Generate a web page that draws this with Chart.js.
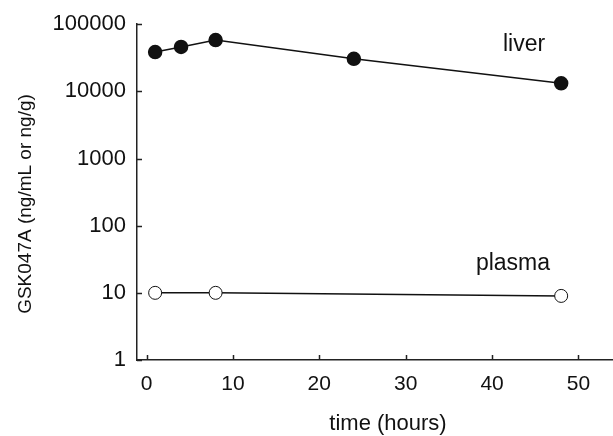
<!DOCTYPE html>
<html>
<head>
<meta charset="utf-8">
<script src="https://cdn.jsdelivr.net/npm/chart.js@4/dist/chart.umd.min.js"></script>
<style>
  html, body { margin: 0; padding: 0; background: #fff; }
  #wrap { width: 613px; height: 436px; }
</style>
</head>
<body>
<div id="wrap"><canvas id="pkChart"></canvas></div>
<script>
const liverTime = [1, 4, 8, 24, 48];
const liverConc = [38500, 45800, 58000, 30500, 13200];
const plasmaTime = [1, 8, 48];
const plasmaConc = [10, 10, 9];
const xTicks = [0, 10, 20, 30, 40, 50];
const yTicks = [1, 10, 100, 1000, 10000, 100000];
const seriesNames = ['liver', 'plasma'];

const FONT = "'Liberation Sans', Arial, sans-serif";
const INK = '#111';

const toPoints = (xs, ys) => xs.map((x, i) => ({ x: x, y: ys[i] }));

// axis titles, series labels and inward tick marks
const decorations = {
    id: 'decorations',
    afterDraw(chart) {
        const { ctx, chartArea, scales } = chart;
        const x = scales.x, y = scales.y;
        ctx.save();
        ctx.strokeStyle = '#222';
        ctx.lineWidth = 1.5;
        ctx.beginPath();
        xTicks.forEach(v => {
            const px = Math.round(x.getPixelForValue(v)) + 0.5;
            ctx.moveTo(px, chartArea.bottom);
            ctx.lineTo(px, chartArea.bottom - 5);
        });
        yTicks.forEach(v => {
            const py = Math.round(y.getPixelForValue(v)) + 0.5;
            ctx.moveTo(chartArea.left, py);
            ctx.lineTo(chartArea.left + 5, py);
        });
        ctx.stroke();

        ctx.fillStyle = INK;
        ctx.textAlign = 'center';
        ctx.textBaseline = 'alphabetic';
        ctx.font = '23px ' + FONT;
        ctx.fillText(seriesNames[0], 524, 51);
        ctx.fillText(seriesNames[1], 513, 270);

        ctx.font = '22px ' + FONT;
        ctx.fillText('time (hours)', 388, 430);

        ctx.translate(31, 204);
        ctx.rotate(-Math.PI / 2);
        ctx.font = '19px ' + FONT;
        ctx.fillText('GSK047A (ng/mL or ng/g)', 0, 0);
        ctx.restore();
    }
};

new Chart(document.getElementById('pkChart'), {
    type: 'line',
    data: {
        datasets: [
            {
                label: seriesNames[0],
                data: toPoints(liverTime, liverConc),
                borderColor: INK,
                borderWidth: 1.5,
                pointBackgroundColor: INK,
                pointBorderColor: INK,
                pointRadius: 6.5,
                tension: 0
            },
            {
                label: seriesNames[1],
                data: toPoints(plasmaTime, plasmaConc),
                borderColor: INK,
                borderWidth: 1.5,
                pointBackgroundColor: '#fff',
                pointBorderColor: INK,
                pointBorderWidth: 1,
                pointRadius: 6.5,
                tension: 0
            }
        ]
    },
    options: {
        responsive: true,
        maintainAspectRatio: false,
        animation: false,
        clip: false,
        layout: { autoPadding: false, padding: { top: 21, right: 0, left: 0, bottom: 0 } },
        plugins: {
            legend: { display: false },
            tooltip: { enabled: false }
        },
        scales: {
            x: {
                type: 'linear',
                min: -1.1,
                max: 54,
                afterBuildTicks: s => { s.ticks = xTicks.map(v => ({ value: v })); },
                afterFit: s => { s.height = 76; },
                grid: { display: false, drawTicks: false },
                border: { display: true, color: '#222', width: 1.5 },
                ticks: { color: INK, padding: 12, font: { family: FONT, size: 21 } }
            },
            y: {
                type: 'logarithmic',
                min: 1,
                max: 100000,
                afterBuildTicks: s => { s.ticks = yTicks.map(v => ({ value: v })); },
                afterFit: s => { s.width = 137; },
                grid: { display: false, drawTicks: false },
                border: { display: true, color: '#222', width: 1.5 },
                ticks: {
                    color: INK,
                    padding: 11,
                    font: { family: FONT, size: 22 },
                    callback: v => String(v)
                }
            }
        }
    },
    plugins: [decorations]
});
</script>
</body>
</html>
